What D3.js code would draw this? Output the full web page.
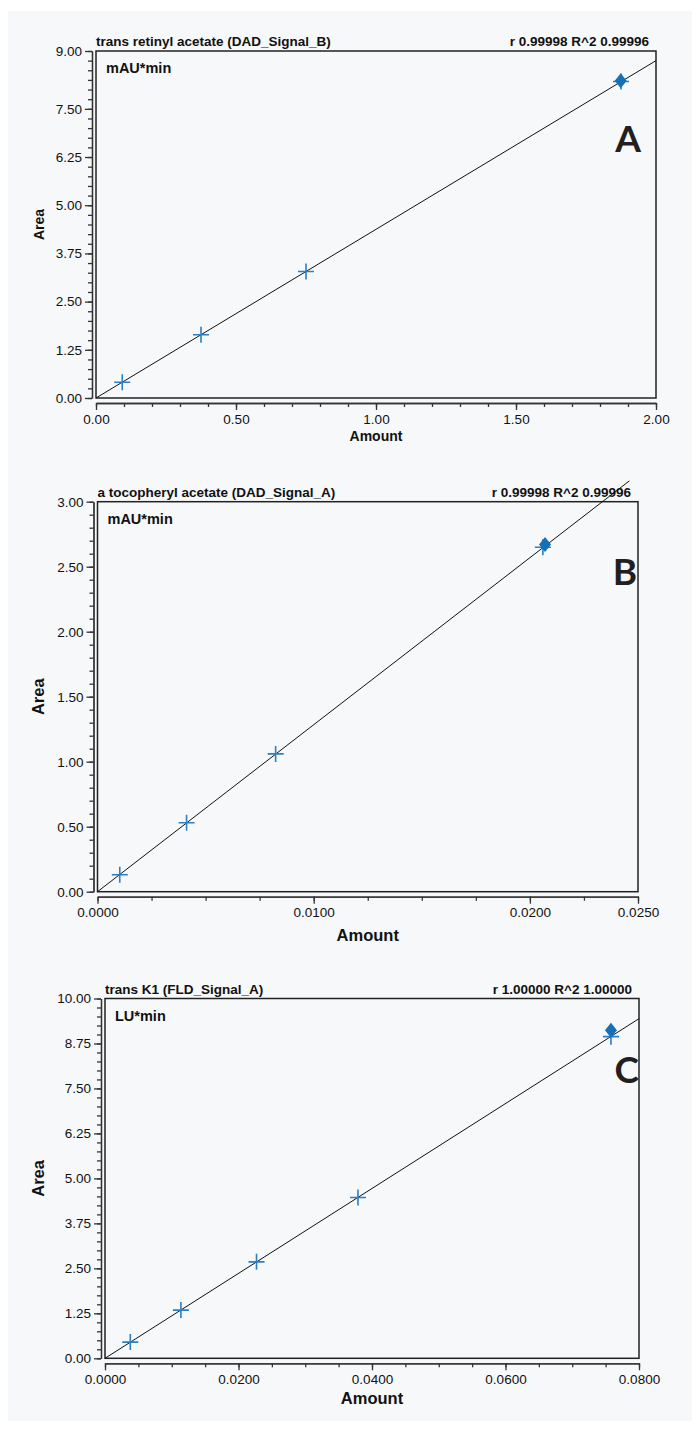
<!DOCTYPE html>
<html>
<head>
<meta charset="utf-8">
<title>Calibration curves</title>
<script src="https://d3js.org/d3.v7.min.js"></script>
<style>
body { margin: 0; background: #fff; }
svg text { font-family: "Liberation Sans", Arial, Helvetica, sans-serif; fill: #111; }
.tick text { font-size: 13.5px; fill: #111; }
.tick line, .domain { stroke: #333; stroke-width: 1.3px; }
</style>
</head>
<body>
<script>
// --- panel A : trans retinyl acetate
var amountA = [0.09375, 0.375, 0.75, 1.875];
var areaA   = [0.41, 1.64, 3.28, 8.21];
var sampleA = [1.874, 8.23];
var fitA    = [[0, 0], [2.0, 8.75]];
var xTicksA = [0, 0.5, 1.0, 1.5, 2.0];
var yTicksA = [0, 1.25, 2.5, 3.75, 5.0, 6.25, 7.5, 9.0];

// --- panel B : a tocopheryl acetate
var amountB = [0.00103, 0.00412, 0.00824, 0.0206];
var areaB   = [0.13, 0.53, 1.06, 2.65];
var sampleB = [0.0207, 2.67];
var fitB    = [[0, 0], [0.0246, 3.16]];
var xTicksB = [0, 0.01, 0.02, 0.025];
var yTicksB = [0, 0.5, 1.0, 1.5, 2.0, 2.5, 3.0];

// --- panel C : trans K1
var amountC = [0.00379, 0.01137, 0.0227, 0.0379, 0.0758];
var areaC   = [0.45, 1.34, 2.68, 4.47, 8.94];
var sampleC = [0.0758, 9.12];
var fitC    = [[0, 0], [0.08, 9.44]];
var xTicksC = [0, 0.02, 0.04, 0.06, 0.08];
var yTicksC = [0, 1.25, 2.5, 3.75, 5.0, 6.25, 7.5, 8.75, 10.0];

var panels = [
  {title: "trans retinyl acetate (DAD_Signal_B)", stat: "r 0.99998 R^2 0.99996", unit: "mAU*min", letter: "A",
   amount: amountA, area: areaA, sample: sampleA, fit: fitA, xTicks: xTicksA, yTicks: yTicksA,
   xMax: 2.0, yMax: 9.0, xMinor: 0.1, yMinor: 0.25, xFmt: ".2f", yFmt: ".2f",
   x0: 96, x1: 656, y0: 51, y1: 398, letterX: 641, letterY: 152, amountY: 441, labSize: 14},
  {title: "a tocopheryl acetate (DAD_Signal_A)", stat: "r 0.99998 R^2 0.99996", unit: "mAU*min", letter: "B",
   amount: amountB, area: areaB, sample: sampleB, fit: fitB, xTicks: xTicksB, yTicks: yTicksB,
   xMax: 0.025, yMax: 3.0, xMinor: 0.0025, yMinor: 0.1, xFmt: ".4f", yFmt: ".2f",
   x0: 97.5, x1: 638, y0: 501.7, y1: 891.7, letterX: 637, letterY: 585, amountY: 941, labSize: 16.5},
  {title: "trans K1 (FLD_Signal_A)", stat: "r 1.00000 R^2 1.00000", unit: "LU*min", letter: "C",
   amount: amountC, area: areaC, sample: sampleC, fit: fitC, xTicks: xTicksC, yTicks: yTicksC,
   xMax: 0.08, yMax: 10.0, xMinor: 0.005, yMinor: 0.25, xFmt: ".4f", yFmt: ".2f",
   x0: 105, x1: 639, y0: 998.5, y1: 1358.3, letterX: 639, letterY: 1083, amountY: 1404, labSize: 16.5}
];

var svg = d3.select("body").append("svg")
    .attr("width", 692)
    .attr("height", 1429);

svg.append("rect")
    .attr("x", 8).attr("y", 11)
    .attr("width", 684).attr("height", 1410)
    .attr("fill", "#f7f8fa");

function steps(max, step) {
  var n = Math.round(max / step), out = [];
  for (var i = 0; i <= n; i++) out.push(i * step);
  return out;
}

panels.forEach(function(p) {
  var g = svg.append("g");
  var x = d3.scaleLinear().domain([0, p.xMax]).range([p.x0, p.x1]);
  var y = d3.scaleLinear().domain([0, p.yMax]).range([p.y1, p.y0]);

  // minor ticks
  g.append("g")
    .attr("transform", "translate(0," + (p.y1 + 5) + ")")
    .call(d3.axisBottom(x).tickValues(steps(p.xMax, p.xMinor)).tickSize(4).tickSizeOuter(0).tickFormat(""));
  g.append("g")
    .attr("transform", "translate(" + (p.x0 - 4) + ",0)")
    .call(d3.axisLeft(y).tickValues(steps(p.yMax, p.yMinor)).tickSize(4).tickSizeOuter(0).tickFormat(""));

  // major ticks + labels
  g.append("g")
    .attr("transform", "translate(0," + (p.y1 + 5) + ")")
    .call(d3.axisBottom(x).tickValues(p.xTicks).tickSize(7).tickSizeOuter(0).tickPadding(4).tickFormat(d3.format(p.xFmt)));
  g.append("g")
    .attr("transform", "translate(" + (p.x0 - 4) + ",0)")
    .call(d3.axisLeft(y).tickValues(p.yTicks).tickSize(7).tickSizeOuter(0).tickPadding(3).tickFormat(d3.format(p.yFmt)));

  // frame
  g.append("rect")
    .attr("x", p.x0).attr("y", p.y0)
    .attr("width", p.x1 - p.x0).attr("height", p.y1 - p.y0)
    .attr("fill", "none").attr("stroke", "#222").attr("stroke-width", 1.5);

  // headers
  g.append("text").attr("x", p.x0).attr("y", p.y0 - 5)
    .style("font-size", "13.5px").style("font-weight", "bold").text(p.title);
  g.append("text").attr("x", p.x1 - 7).attr("y", p.y0 - 5).attr("text-anchor", "end")
    .style("font-size", "13.5px").style("font-weight", "bold").text(p.stat);
  g.append("text").attr("x", p.x0 + 10).attr("y", p.y0 + 22)
    .style("font-size", "14.5px").style("font-weight", "bold").text(p.unit);

  // axis titles
  g.append("text")
    .attr("transform", "translate(44," + ((p.y0 + p.y1) / 2) + ")rotate(-90)")
    .attr("text-anchor", "middle")
    .style("font-size", p.labSize + "px").style("font-weight", "bold").text("Area");
  g.append("text")
    .attr("x", (p.x0 + p.x1) / 2).attr("y", p.amountY)
    .attr("text-anchor", "middle")
    .style("font-size", p.labSize + "px").style("font-weight", "bold").text("Amount");

  // panel letter
  g.append("text").attr("x", p.letterX).attr("y", p.letterY).attr("text-anchor", "end")
    .style("font-family", "Lato, 'Open Sans', sans-serif").style("font-weight", "bold")
    .style("font-size", "37px").style("fill", "#231f20").text(p.letter);

  // fit line
  g.append("path")
    .datum(p.fit)
    .attr("d", d3.line().x(function(d) { return x(d[0]); }).y(function(d) { return y(d[1]); }))
    .attr("fill", "none").attr("stroke", "#111").attr("stroke-width", 1);

  // calibration points
  var pts = p.amount.map(function(a, i) { return [a, p.area[i]]; });
  g.selectAll("path.cross")
    .data(pts).enter()
    .append("path")
    .attr("class", "cross")
    .attr("transform", function(d) { return "translate(" + x(d[0]) + "," + y(d[1]) + ")"; })
    .attr("d", "M-8,0H8M0,-8V8")
    .attr("stroke", "#2a7fc6").attr("stroke-width", 1.6).attr("fill", "none");

  // sample point
  g.append("path")
    .attr("transform", "translate(" + x(p.sample[0]) + "," + y(p.sample[1]) + ")")
    .attr("d", "M0,-7.5L6,0L0,7.5L-6,0Z")
    .attr("fill", "#1570b8");
});
</script>
</body>
</html>
